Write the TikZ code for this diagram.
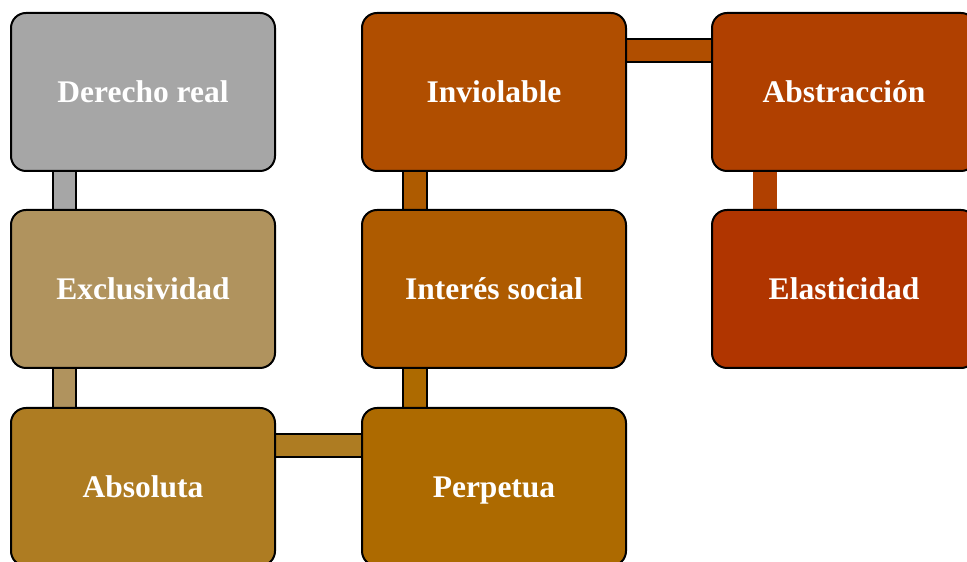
\documentclass[tikz,border=0pt]{standalone}
\usepackage{fontspec}
\setmainfont{Liberation Serif}
\usetikzlibrary{calc,backgrounds}
\definecolor{cA}{HTML}{A6A6A6}
\definecolor{cB}{HTML}{B0935E}
\definecolor{cC}{HTML}{AE7C22}
\definecolor{cD}{HTML}{AD6A00}
\definecolor{cE}{HTML}{AE5B00}
\definecolor{cF}{HTML}{B04E00}
\definecolor{cG}{HTML}{B04000}
\definecolor{cH}{HTML}{B03500}
\tikzset{
  box/.style={draw=black, line width=2pt, rounded corners=15pt, minimum width=264pt, minimum height=158pt, inner sep=0pt, text=white, font=\fontsize{31.5}{36}\selectfont\bfseries, text height=23.6pt, text depth=2.8pt},
  bar/.style={line width=1.8pt, draw=black, double=#1, double distance=21.5pt},
  plainbar/.style={line width=24.5pt, draw=#1}
}
\begin{document}
\begin{tikzpicture}[x=1pt,y=1pt]
\useasboundingbox (0,0) rectangle (967,562);
\node[box, fill=cA] (dr) at (143,470) {Derecho real};
\node[box, fill=cB] (ex) at (143,273) {Exclusividad};
\node[box, fill=cC] (ab) at (143,75) {Absoluta};
\node[box, fill=cD] (pe) at (494,75) {Perpetua};
\node[box, fill=cE] (is) at (494,273) {Interés social};
\node[box, fill=cF] (in) at (494,470) {Inviolable};
\node[box, fill=cG] (abs) at (844,470) {Abstracción};
\node[box, fill=cH] (el) at (844,273) {Elasticidad};
\begin{scope}[on background layer]
\draw[bar=cA] ($(dr.south west)+(54.5,10)$) -- ($(ex.north west)+(54.5,-10)$);
\draw[bar=cB] ($(ex.south west)+(54.5,10)$) -- ($(ab.north west)+(54.5,-10)$);
\draw[bar=cC] ($(ab.north east)+(-10,-38.5)$) -- ($(pe.north west)+(10,-38.5)$);
\draw[bar=cD] ($(pe.north west)+(54,-10)$) -- ($(is.south west)+(54,10)$);
\draw[bar=cE] ($(is.north west)+(54,-10)$) -- ($(in.south west)+(54,10)$);
\draw[bar=cF] ($(in.north east)+(-10,-38.5)$) -- ($(abs.north west)+(10,-38.5)$);
\draw[plainbar=cG] ($(abs.south west)+(54,10)$) -- ($(el.north west)+(54,-10)$);
\end{scope}
\end{tikzpicture}
\end{document}
